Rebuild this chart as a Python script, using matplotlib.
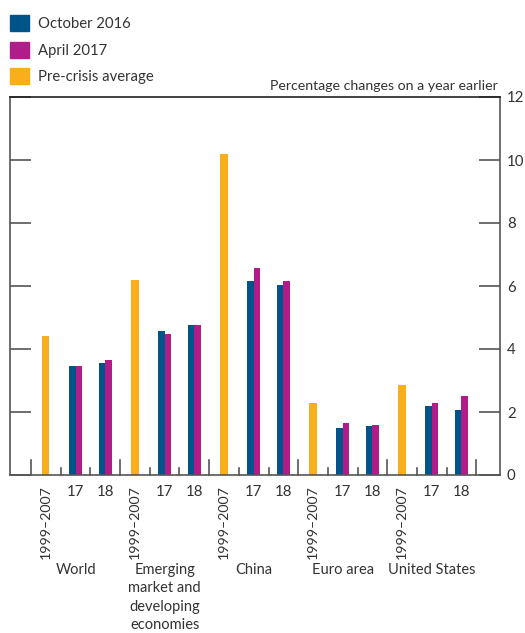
import matplotlib
matplotlib.use("Agg")
import matplotlib.pyplot as plt
import numpy as np
from matplotlib.patches import Patch

plt.rcParams['font.family'] = ['Lato', 'DejaVu Sans']

regions = ["World", "Emerging\nmarket and\ndeveloping\neconomies", "China", "Euro area", "United States"]
pre_label = "1999–2007"
year_labels = ["17", "18"]
pre_crisis = [4.4, 6.2, 10.2, 2.3, 2.85]
oct_2016_17 = [3.45, 4.57, 6.16, 1.49, 2.19]
oct_2016_18 = [3.56, 4.77, 6.03, 1.56, 2.06]
apr_2017_17 = [3.45, 4.48, 6.57, 1.65, 2.29]
apr_2017_18 = [3.65, 4.77, 6.16, 1.59, 2.51]

c_blue = "#005489"
c_mag = "#B01C88"
c_org = "#F9AE1B"
c_txt = "#333333"
fs = 10.2

fig = plt.figure(figsize=(5.25, 6.33), dpi=100)
ax = fig.add_axes([10/525, 1-475/633, 490/525, 378/633])

n = len(regions)
base = np.arange(n) * 3
pos_pre = base
pos_17 = base + 1
pos_18 = base + 2
bw = 0.22

ax.bar(pos_pre, pre_crisis, width=0.24, color=c_org)
ax.bar(pos_17 - bw/2, oct_2016_17, width=bw, color=c_blue)
ax.bar(pos_18 - bw/2, oct_2016_18, width=bw, color=c_blue)
ax.bar(pos_17 + bw/2, apr_2017_17, width=bw, color=c_mag)
ax.bar(pos_18 + bw/2, apr_2017_18, width=bw, color=c_mag)

ax.set_xlim(-1.21, 15.3)
ax.set_ylim(0, 12)

for s in ax.spines.values():
    s.set_color("#555555")
    s.set_linewidth(1.2)
ax.spines['top'].set_color("#222222")

ax.yaxis.tick_right()
ax.set_yticks(np.arange(0, 13, 2))
ax.tick_params(axis='y', which='major', left=True, right=True, direction='in', length=15,
               width=1.2, color="#555555", labelsize=fs + 0.6, labelcolor=c_txt, pad=5,
               labelleft=False, labelright=True)

# x tick labels
xt = []
xl = []
for i in range(n):
    xt += [pos_pre[i], pos_17[i], pos_18[i]]
    xl += [pre_label] + year_labels
ax.set_xticks(xt, xl)
ax.tick_params(axis='x', length=0, labelsize=fs, labelcolor=c_txt, pad=7)
for lab in ax.get_xticklabels():
    if lab.get_text() == pre_label:
        lab.set_rotation(90)
        lab.set_va('top')
    else:
        lab.set_fontsize(fs + 0.6)

# separator ticks
trans = ax.get_xaxis_transform()
for i in range(n + 1):
    x = i * 3 - 0.5
    ax.plot([x, x], [0, 15/378], color="#555555", lw=1.2, transform=trans, clip_on=False)
for i in range(n):
    for k in (0.5, 1.5):
        x = i * 3 + k
        ax.plot([x, x], [0, 7/378], color="#555555", lw=1.2, transform=trans, clip_on=False)

# group labels
for i, r in enumerate(regions):
    ax.text(pos_17[i], (475-563)/378, r, transform=trans, ha='center', va='top',
            fontsize=fs + 0.3, color=c_txt, linespacing=1.4)

ax.text(0.995, (475-92)/378, "Percentage changes on a year earlier", transform=ax.transAxes,
        ha='right', va='bottom', fontsize=fs, color=c_txt)

handles = [Patch(color=c_blue, label="October 2016"),
           Patch(color=c_mag, label="April 2017"),
           Patch(color=c_org, label="Pre-crisis average")]
fig.legend(handles=handles, loc='upper left', bbox_to_anchor=(4/525, 1-9/633), frameon=False,
           fontsize=fs + 0.5, handlelength=1.3, handleheight=1.3, handletextpad=0.6,
           labelspacing=0.7, labelcolor=c_txt, borderaxespad=0)

fig.savefig("out.png", dpi=100)
